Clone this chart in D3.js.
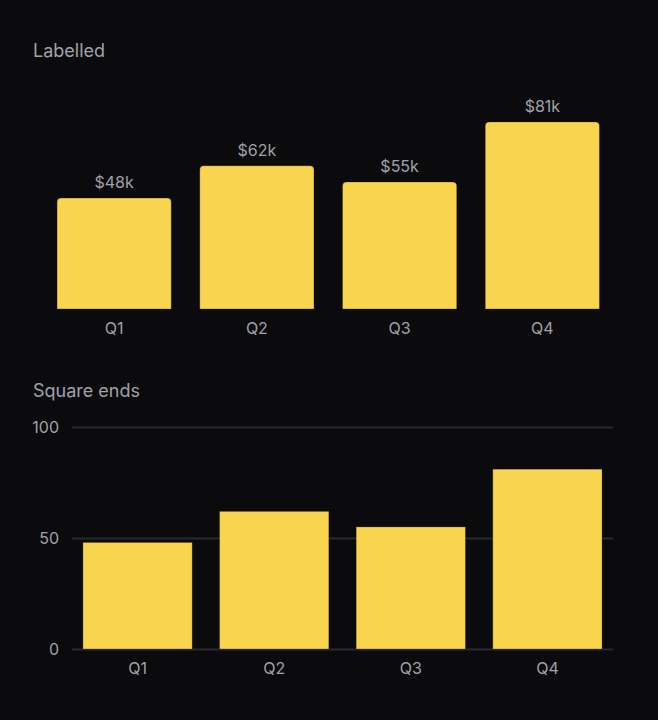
<!DOCTYPE html>
<html><head><meta charset="utf-8">
<script src="https://cdn.jsdelivr.net/npm/d3@7"></script>
<style>
html,body{margin:0;padding:0;background:#0b0b0d;}
svg{display:block;}
text{font-family:Inter,"Noto Sans",sans-serif;}
</style></head>
<body>
<svg id="c" width="658" height="720"></svg>
<script>
const categories = ["Q1","Q2","Q3","Q4"];
const values = [48,62,55,81];
const valueLabels = ["$48k","$62k","$55k","$81k"];
const yTicks = [0,50,100];
const titles = ["Labelled","Square ends"];

const svg = d3.select("#c");
const textColor = "#a1a1aa";
const barColor = "#f9d44f";
const ff = "Inter,'Noto Sans',sans-serif";

// Title 1
svg.append("text").attr("x",33).attr("y",57).attr("fill",textColor)
  .attr("font-size",18).text(titles[0]);

// Chart 1
const x1 = d3.scaleBand().domain(categories).range([28.5,628]).paddingInner(0.2).paddingOuter(0.2);
const y1 = d3.scaleLinear().domain([0,100]).range([309,78]);
const r = 4;
function topRounded(x,y,w,h,r){
  return `M${x},${y+h}V${y+r}Q${x},${y} ${x+r},${y}H${x+w-r}Q${x+w},${y} ${x+w},${y+r}V${y+h}Z`;
}
const g1 = svg.append("g");
g1.selectAll("path.bar").data(values).join("path").attr("class","bar")
  .attr("d",(d,i)=>topRounded(x1(categories[i]),y1(d),x1.bandwidth(),y1(0)-y1(d),r))
  .attr("fill",barColor).attr("stroke","rgba(0,0,0,0.25)").attr("stroke-width",1);
g1.selectAll("text.val").data(values).join("text").attr("class","val")
  .attr("x",(d,i)=>x1(categories[i])+x1.bandwidth()/2).attr("y",d=>y1(d)-10)
  .attr("text-anchor","middle").attr("fill",textColor).attr("font-size",16)
  .text((d,i)=>valueLabels[i]);
const ax1 = g1.append("g").attr("transform","translate(0,309)")
  .call(d3.axisBottom(x1).tickSize(0).tickPadding(14));
ax1.select(".domain").remove();
ax1.selectAll("text").attr("fill",textColor).attr("font-size",16).attr("font-family",ff);

// Title 2
svg.append("text").attr("x",33).attr("y",397).attr("fill",textColor)
  .attr("font-size",18).text(titles[1]);

// Chart 2
const x2 = d3.scaleBand().domain(categories).range([72,613]).paddingInner(0.2).paddingOuter(0.08);
const y2 = d3.scaleLinear().domain([0,100]).range([649,427]);
const g2 = svg.append("g");
const gy = g2.append("g").attr("transform","translate(72,0)")
  .call(d3.axisLeft(y2).tickValues(yTicks).tickSize(-(613-72)).tickPadding(13));
gy.select(".domain").remove();
gy.selectAll(".tick line").attr("stroke","#2a2a2e").attr("stroke-width",2);
gy.selectAll("text").attr("fill",textColor).attr("font-size",16).attr("font-family",ff);
g2.selectAll("rect.bar").data(values).join("rect").attr("class","bar")
  .attr("x",(d,i)=>x2(categories[i])).attr("y",d=>y2(d))
  .attr("width",x2.bandwidth()).attr("height",d=>y2(0)-y2(d))
  .attr("fill",barColor).attr("stroke","rgba(0,0,0,0.25)").attr("stroke-width",1);
const ax2 = g2.append("g").attr("transform","translate(0,649)")
  .call(d3.axisBottom(x2).tickSize(0).tickPadding(14));
ax2.select(".domain").remove();
ax2.selectAll("text").attr("fill",textColor).attr("font-size",16).attr("font-family",ff);
</script>
</body></html>
